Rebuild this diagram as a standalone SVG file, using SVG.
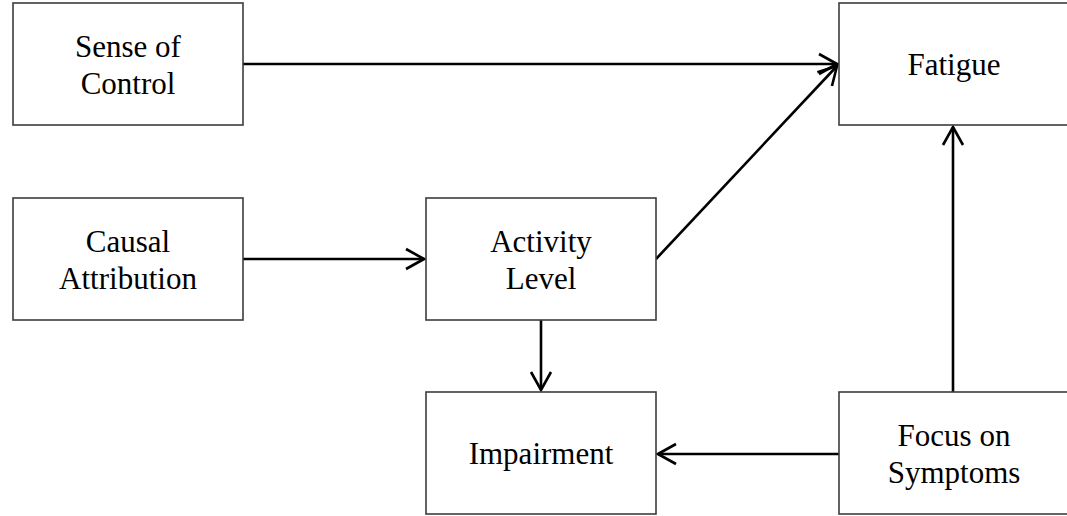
<svg xmlns="http://www.w3.org/2000/svg" width="1067" height="516" viewBox="0 0 1067 516">
<style>
.box{fill:#fff;stroke:#3c3c3c;stroke-width:1.6}
.lbl{font-family:"Liberation Serif","Times New Roman",serif;font-size:31px;fill:#000;text-anchor:middle}
.conn{fill:none;stroke:#000;stroke-width:2.6}
</style>
<defs>
<marker id="arr" markerUnits="userSpaceOnUse" viewBox="-22 -13 24 26" markerWidth="24" markerHeight="26" refX="0" refY="0" orient="auto">
<path d="M-18,-10 L0,0 L-18,10" fill="none" stroke="#000" stroke-width="2.6"/>
</marker>
</defs>
<rect width="1067" height="516" fill="#fff"/>
<g id="connectors">
<line class="conn" x1="243" y1="64" x2="837" y2="64" marker-end="url(#arr)"/>
<line class="conn" x1="656" y1="259" x2="837" y2="66" marker-end="url(#arr)"/>
<line class="conn" x1="243" y1="259" x2="424" y2="259" marker-end="url(#arr)"/>
<line class="conn" x1="541" y1="320" x2="541" y2="390" marker-end="url(#arr)"/>
<line class="conn" x1="953" y1="392" x2="953" y2="127" marker-end="url(#arr)"/>
<line class="conn" x1="839" y1="454" x2="658" y2="454" marker-end="url(#arr)"/>
</g>
<g id="sense-of-control">
<rect class="box" x="13" y="3" width="230" height="122"/>
<text class="lbl" x="128" y="57">Sense of</text>
<text class="lbl" x="128" y="94">Control</text>
</g>
<g id="fatigue">
<rect class="box" x="839" y="3" width="240" height="122"/>
<text class="lbl" x="954" y="75">Fatigue</text>
</g>
<g id="causal-attribution">
<rect class="box" x="13" y="198" width="230" height="122"/>
<text class="lbl" x="128" y="252">Causal</text>
<text class="lbl" x="128" y="289">Attribution</text>
</g>
<g id="activity-level">
<rect class="box" x="426" y="198" width="230" height="122"/>
<text class="lbl" x="541" y="252">Activity</text>
<text class="lbl" x="541" y="289">Level</text>
</g>
<g id="impairment">
<rect class="box" x="426" y="392" width="230" height="122"/>
<text class="lbl" x="541" y="464">Impairment</text>
</g>
<g id="focus-on-symptoms">
<rect class="box" x="839" y="392" width="240" height="122"/>
<text class="lbl" x="954" y="446">Focus on</text>
<text class="lbl" x="954" y="483">Symptoms</text>
</g>
</svg>
